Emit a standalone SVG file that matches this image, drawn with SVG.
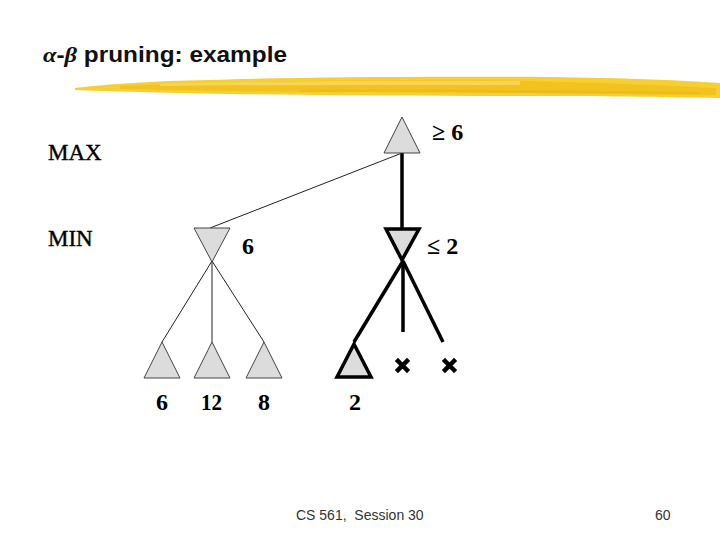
<svg xmlns="http://www.w3.org/2000/svg" width="720" height="540" viewBox="0 0 720 540">
<style>
.title{font-family:"Liberation Sans",Arial,sans-serif;font-size:22px;font-weight:bold;fill:#111}
.greek{font-family:"Liberation Serif","DejaVu Serif",serif;font-style:italic}
.lbl{font-family:"Liberation Serif","Times New Roman",serif;font-size:24px;font-weight:bold;fill:#000}
.lvl{font-family:"Liberation Serif","Times New Roman",serif;font-size:23px;fill:#000;stroke:#000;stroke-width:0.4}
.foot{font-family:"Liberation Sans",Arial,sans-serif;font-size:14px;fill:#333}
.tri{fill:#dcdcdc;stroke:#444;stroke-width:1}
.trib{fill:#dcdcdc;stroke:#000;stroke-width:3.5}
.thin{stroke:#222;stroke-width:1;fill:none}
.thick{stroke:#000;stroke-width:3.5;fill:none}
.cross{stroke:#000;stroke-width:4.5;stroke-linecap:square}
</style>
<rect width="720" height="540" fill="#fff"/>
<text class="title" x="43" y="62" textLength="244" lengthAdjust="spacingAndGlyphs"><tspan class="greek">α</tspan>-<tspan class="greek">β</tspan> pruning: example</text>
<g id="brush">
<path d="M75,88 C110,84 150,81 210,80 C300,77 420,76 550,77 C620,78 680,80 720,83 L720,98 C660,97 600,96 520,96 C420,96 320,95 230,94 C160,93 110,91 75,90 Z" fill="#f6cf33"/>
<path d="M120,86 C220,82 330,80 450,80 C560,81 640,84 716,88 L716,95 C600,94 470,92 340,92 C240,92 170,90 120,89 Z" fill="#f0bf1a" opacity="0.75"/>
<path d="M160,84 C260,81 380,80 520,81 L520,85 C390,85 270,85 160,86 Z" fill="#fae07a" opacity="0.6"/>
<path d="M300,90 C420,89 560,90 700,92 L700,94 C560,93 420,92 300,92 Z" fill="#e8b514" opacity="0.5"/>
</g>
<text class="lvl" x="48" y="160">MAX</text>
<text class="lvl" x="48" y="246">MIN</text>
<g id="connectors">
<line class="thin" x1="402" y1="153" x2="210" y2="228"/>
<line class="thick" x1="402" y1="153" x2="402" y2="228"/>
<line class="thin" x1="212" y1="261" x2="162" y2="342"/>
<line class="thin" x1="212" y1="261" x2="212" y2="342"/>
<line class="thin" x1="212" y1="261" x2="264" y2="342"/>
<line class="thick" x1="403" y1="261" x2="354" y2="342"/>
<line class="thick" x1="403" y1="261" x2="403" y2="332"/>
<line class="thick" x1="403" y1="261" x2="443" y2="342"/>
</g>
<g id="max-root">
<polygon class="tri" points="402,117 384,153 420,153"/>
<text class="lbl" x="432" y="140">≥ 6</text>
</g>
<g id="min-left">
<polygon class="tri" points="194,228 230,228 212,262"/>
<text class="lbl" x="242" y="254">6</text>
</g>
<g id="min-right">
<polygon class="trib" points="386,229 419,229 402,260"/>
<text class="lbl" x="427" y="254">≤ 2</text>
</g>
<g id="leaf-6">
<polygon class="tri" points="162,342 144,378 180,378"/>
<text class="lbl" x="162" y="410" text-anchor="middle">6</text>
</g>
<g id="leaf-12">
<polygon class="tri" points="212,342 194,378 230,378"/>
<text class="lbl" x="201" y="410" textLength="21" lengthAdjust="spacingAndGlyphs">12</text>
</g>
<g id="leaf-8">
<polygon class="tri" points="264,342 246,378 282,378"/>
<text class="lbl" x="264" y="410" text-anchor="middle">8</text>
</g>
<g id="leaf-2">
<polygon class="trib" points="354,344 337,377 371,377"/>
<text class="lbl" x="355" y="410" text-anchor="middle">2</text>
</g>
<g id="pruned-1">
<path class="cross" d="M398,361 L407,370 M407,361 L398,370"/>
</g>
<g id="pruned-2">
<path class="cross" d="M445,361 L454,370 M454,361 L445,370"/>
</g>
<text class="foot" x="296" y="520" xml:space="preserve">CS 561,  Session 30</text>
<text class="foot" x="655" y="520">60</text>
</svg>
